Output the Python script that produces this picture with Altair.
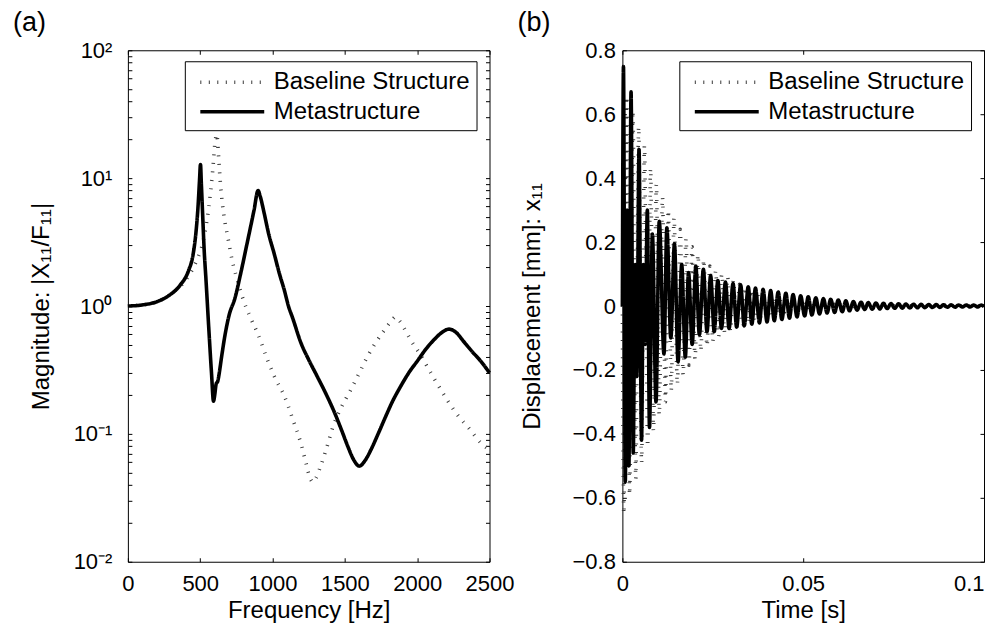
import altair as alt
import pandas as pd

FONT = "Liberation Sans"
SERIES = ["Baseline Structure", "Metastructure"]

# ---------------- (a) frequency response magnitudes -------------
FREQ_BASE = [0, 100, 200, 300, 400, 470, 520, 560, 585, 605,
             615, 625, 640, 665, 690, 720, 760, 800, 850, 900,
             965, 1020, 1080, 1140, 1195, 1230, 1260, 1280, 1300, 1330,
             1370, 1425, 1480, 1540, 1600, 1655, 1710, 1770, 1820, 1850,
             1880, 1920, 1960, 2020, 2080, 2140, 2200, 2280, 2360, 2440,
             2500]
MAG_BASE = [1.0, 1.02, 1.08, 1.25, 1.6, 2.2, 3.2, 6.0, 11.0, 20.0,
            22.0, 16.0, 9.0, 5.0, 3.5, 2.3, 1.55, 1.1, 0.8, 0.6,
            0.38, 0.27, 0.2, 0.13, 0.085, 0.06, 0.045, 0.042, 0.045, 0.055,
            0.075, 0.12, 0.165, 0.22, 0.30, 0.40, 0.51, 0.64, 0.76, 0.82,
            0.76, 0.64, 0.53, 0.42, 0.32, 0.245, 0.19, 0.14, 0.11, 0.085,
            0.075]

FREQ_META = [0, 100, 200, 280, 360, 420, 450, 470, 485, 495,
             502, 508, 516, 527, 540, 560, 578, 592, 600, 610,
             622, 632, 645, 670, 700, 740, 780, 827, 872, 900,
             915, 941, 975, 1010, 1050, 1080, 1110, 1140, 1195, 1250,
             1310, 1370, 1425, 1480, 1520, 1560, 1600, 1640, 1680, 1730,
             1780, 1830, 1890, 1950, 2000, 2060, 2120, 2170, 2220, 2270,
             2320, 2380, 2440, 2500]
MAG_META = [1.0, 1.02, 1.08, 1.2, 1.45, 1.9, 2.5, 3.7, 6.0, 9.5,
            12.8, 9.0, 5.5, 2.8, 1.6, 0.65, 0.3, 0.18, 0.2, 0.245,
            0.26, 0.3, 0.38, 0.58, 0.85, 1.15, 1.8, 3.2, 5.6, 8.0,
            7.2, 5.4, 3.6, 2.6, 1.75, 1.35, 1.0, 0.8, 0.52, 0.38,
            0.28, 0.205, 0.15, 0.105, 0.08, 0.063, 0.056, 0.062, 0.075, 0.1,
            0.135, 0.18, 0.24, 0.31, 0.37, 0.46, 0.55, 0.62, 0.66, 0.62,
            0.53, 0.44, 0.37, 0.30]

# ---------------- (b) time response: successive extremes (time [s], displacement [mm]) --
BASE_EXTREMES = [
    (0.0, 0.0), (0.0004, -0.65), (0.0012, 0.655), (0.0020, -0.59), (0.0029, 0.61),
    (0.0037, -0.54), (0.0045, 0.56), (0.0053, -0.49), (0.0061, 0.50), (0.0070, -0.44),
    (0.0078, 0.43), (0.0086, -0.39), (0.0094, 0.38), (0.0102, -0.34), (0.0111, 0.34),
    (0.0119, -0.30), (0.0127, 0.30), (0.0135, -0.265), (0.0143, 0.275), (0.0152, -0.245),
    (0.0160, 0.24), (0.0168, -0.215), (0.0176, 0.21), (0.0184, -0.185), (0.0193, 0.185),
    (0.0201, -0.165), (0.0209, 0.16), (0.0217, -0.14), (0.0225, 0.145), (0.0234, -0.125),
    (0.0242, 0.125), (0.0250, -0.11), (0.0258, 0.11), (0.0266, -0.095), (0.0275, 0.10),
    (0.0283, -0.085), (0.0291, 0.09), (0.0299, -0.078), (0.0307, 0.08), (0.0316, -0.07),
    (0.0324, 0.068), (0.0332, -0.062), (0.0340, 0.058), (0.0348, -0.053), (0.0357, 0.05),
    (0.0365, -0.046), (0.0373, 0.043), (0.0381, -0.04), (0.0389, 0.037), (0.0398, -0.034),
    (0.0406, 0.032), (0.0414, -0.029), (0.0422, 0.027), (0.0430, -0.025), (0.0439, 0.023),
    (0.0447, -0.021), (0.0455, 0.02), (0.0463, -0.018), (0.0471, 0.017), (0.0480, -0.015),
    (0.0488, 0.014), (0.0496, -0.013), (0.0504, 0.012), (0.0512, -0.011), (0.0521, 0.010),
    (0.0529, -0.009), (0.0537, 0.0085), (0.0545, -0.008), (0.0553, 0.007), (0.0561, -0.0065),
    (0.0570, 0.006), (0.0578, -0.0055), (0.0586, 0.005), (0.0594, -0.0045), (0.0602, 0.004),
    (0.0610, -0.0037), (0.0619, 0.0034), (0.0627, -0.0031), (0.0635, 0.0029), (0.0643, -0.0027),
    (0.0651, 0.0025), (0.0660, -0.0023), (0.0668, 0.0021), (0.0676, -0.0019), (0.0684, 0.0018),
    (0.0692, -0.0017), (0.0701, 0.0016), (0.0709, -0.0015), (0.0717, 0.0014), (0.0725, -0.0013),
    (0.0733, 0.0012), (0.0742, -0.0011), (0.0750, 0.0010), (0.0758, -0.0010), (0.0766, 0.0009),
    (0.0774, -0.0009), (0.0783, 0.0008), (0.0791, -0.0008), (0.0799, 0.0007), (0.0807, -0.0007),
    (0.0815, 0.0007), (0.0824, -0.0006), (0.0832, 0.0006), (0.0840, -0.0006), (0.0848, 0.0005),
    (0.0856, -0.0005), (0.0865, 0.0005), (0.0873, -0.0005), (0.0881, 0.0004), (0.0889, -0.0004),
    (0.0897, 0.0004), (0.0906, -0.0004), (0.0914, 0.0004), (0.0922, -0.0003), (0.0930, 0.0003),
    (0.0938, -0.0003), (0.0947, 0.0003), (0.0955, -0.0003), (0.0963, 0.0003), (0.0971, -0.0003),
    (0.0979, 0.0002), (0.0988, -0.0002), (0.0996, 0.0002), (0.1000, 0.0),
]

META_EXTREMES = [
    (0.0, 0.0), (0.0003, 0.75), (0.0008, -0.55), (0.0013, 0.30), (0.0018, -0.50),
    (0.0024, 0.67), (0.0030, -0.46), (0.0035, 0.13), (0.0040, -0.22), (0.0046, 0.49),
    (0.0053, -0.42), (0.0058, 0.13), (0.0063, -0.12), (0.0069, 0.30), (0.0075, -0.38),
    (0.0083, 0.225), (0.0093, -0.30), (0.0102, 0.265), (0.0115, -0.15), (0.0123, 0.245),
    (0.0134, -0.10), (0.0144, 0.195), (0.0154, -0.175), (0.0164, 0.13), (0.0174, -0.16),
    (0.0183, 0.105), (0.0193, -0.12), (0.0203, 0.125), (0.0213, -0.09), (0.0224, 0.115),
    (0.0234, -0.08), (0.0244, 0.095), (0.0254, -0.08), (0.0264, 0.08), (0.0274, -0.07),
    (0.0285, 0.075), (0.0295, -0.07), (0.0306, 0.07), (0.0316, -0.066), (0.0327, 0.066),
    (0.0337, -0.062), (0.0348, 0.06), (0.0358, -0.057), (0.0368, 0.056), (0.0379, -0.053),
    (0.0389, 0.052), (0.0400, -0.05), (0.0410, 0.048), (0.0420, -0.046), (0.0431, 0.044),
    (0.0441, -0.042), (0.0452, 0.04), (0.0462, -0.038), (0.0472, 0.036), (0.0483, -0.034),
    (0.0493, 0.032), (0.0504, -0.031), (0.0514, 0.029), (0.0524, -0.028), (0.0535, 0.026),
    (0.0545, -0.025), (0.0556, 0.023), (0.0566, -0.022), (0.0576, 0.021), (0.0587, -0.02),
    (0.0597, 0.019), (0.0608, -0.018), (0.0618, 0.016), (0.0628, -0.015), (0.0639, 0.014),
    (0.0649, -0.013), (0.0660, 0.012), (0.0670, -0.011), (0.0680, 0.0105), (0.0691, -0.01),
    (0.0701, 0.0095), (0.0712, -0.009), (0.0722, 0.0085), (0.0732, -0.008), (0.0743, 0.0075),
    (0.0753, -0.0072), (0.0764, 0.007), (0.0774, -0.0066), (0.0784, 0.0063), (0.0795, -0.006),
    (0.0805, 0.0057), (0.0816, -0.0055), (0.0826, 0.0052), (0.0836, -0.005), (0.0847, 0.0048),
    (0.0857, -0.0046), (0.0868, 0.0044), (0.0878, -0.0042), (0.0888, 0.004), (0.0899, -0.0038),
    (0.0909, 0.0036), (0.0920, -0.0035), (0.0930, 0.0034), (0.0940, -0.0032), (0.0951, 0.0031),
    (0.0961, -0.003), (0.0972, 0.0029), (0.0982, -0.0028), (0.0992, 0.0027), (0.1000, -0.0015),
]

# ---------------- axis tick values ----------------
XA_TICKS = [0, 500, 1000, 1500, 2000, 2500]
YA_MAJOR = [0.01, 0.1, 1, 10, 100]
YA_ALL = [0.01, 0.02, 0.03, 0.04, 0.05, 0.06, 0.07, 0.08, 0.09,
          0.1, 0.2, 0.3, 0.4, 0.5, 0.6, 0.7, 0.8, 0.9,
          1, 2, 3, 4, 5, 6, 7, 8, 9,
          10, 20, 30, 40, 50, 60, 70, 80, 90, 100]
XB_TICKS = [0, 0.05, 0.1]
YB_TICKS = [-0.8, -0.6, -0.4, -0.2, 0, 0.2, 0.4, 0.6, 0.8]

W, H = 362, 512

df_a = pd.concat([
    pd.DataFrame({"x": FREQ_BASE, "y": MAG_BASE, "s": SERIES[0]}),
    pd.DataFrame({"x": FREQ_META, "y": MAG_META, "s": SERIES[1]}),
], ignore_index=True)

df_b = pd.concat([
    pd.DataFrame({"x": [p[0] for p in BASE_EXTREMES], "y": [p[1] for p in BASE_EXTREMES], "s": SERIES[0]}),
    pd.DataFrame({"x": [p[0] for p in META_EXTREMES], "y": [p[1] for p in META_EXTREMES], "s": SERIES[1]}),
], ignore_index=True)


def main_axis(**kw):
    d = dict(labelFont=FONT, labelFontSize=22, labelColor="black",
             titleFont=FONT, titleFontSize=24, titleColor="black", titleFontWeight="normal",
             domain=False, grid=False, ticks=False, tickSize=0,
             labelFlush=False, labelOverlap=False)
    d.update(kw)
    return alt.Axis(**d)


def tick_axis(**kw):
    d = dict(labels=False, domain=False, grid=False, ticks=True, tickSize=4,
             tickColor="black", tickWidth=1, title=None)
    d.update(kw)
    return alt.Axis(**d)


legend = alt.Legend(title=None, orient="none", legendX=57, legendY=11, direction="vertical",
                    labelFont=FONT, labelFontSize=24, labelColor="black", labelLimit=400,
                    symbolType="M-2.5,0H2.5", symbolSize=655, symbolStrokeWidth=3.5,
                    strokeColor="black", fillColor="white", padding=6, symbolOffset=26.5,
                    labelOffset=26.5, rowPadding=2.5, cornerRadius=0)

color_enc = alt.Color("s:N", scale=alt.Scale(domain=SERIES, range=["#3a3a3a", "#000000"]), legend=legend)
dash_enc = alt.StrokeDash("s:N", scale=alt.Scale(domain=SERIES, range=[[1, 7.5], [1, 0]]), legend=legend)


def panel(df, xscale, yscale, xvals, yvals, yticks, xaxis_kw, yaxis_kw, label, label_dx):
    lines = alt.Chart(df).mark_line(strokeWidth=3.6, interpolate="monotone").encode(
        x=alt.X("x:Q", scale=xscale, axis=main_axis(orient="bottom", values=xvals, **xaxis_kw)),
        y=alt.Y("y:Q", scale=yscale, axis=main_axis(orient="left", values=yvals, **yaxis_kw)),
        color=color_enc,
        strokeDash=dash_enc,
    )
    ticks_in_bl = alt.Chart(df).mark_line(opacity=0).encode(
        x=alt.X("x:Q", scale=xscale, axis=tick_axis(orient="top", offset=-H, values=xvals)),
        y=alt.Y("y:Q", scale=yscale, axis=tick_axis(orient="right", offset=-W, values=yticks)),
    )
    ticks_in_tr = alt.Chart(df).mark_line(opacity=0).encode(
        x=alt.X("x:Q", scale=xscale, axis=tick_axis(orient="bottom", offset=-H, values=xvals)),
        y=alt.Y("y:Q", scale=yscale, axis=tick_axis(orient="left", offset=-W, values=yticks)),
    )
    return alt.layer(lines, ticks_in_bl, ticks_in_tr).resolve_axis(
        x="independent", y="independent"
    ).properties(
        width=W, height=H,
        title=alt.TitleParams(text=label, anchor="start", frame="group", orient="top",
                              dx=label_dx, offset=2, baseline="top", font=FONT,
                              fontSize=27, fontWeight="normal", color="black"),
    )


log_label = ("datum.value < 0.05 ? '10⁻²' : datum.value < 0.5 ? '10⁻¹' : "
             "datum.value < 5 ? '10⁰' : datum.value < 50 ? '10¹' : '10²'")

panel_a = panel(
    df_a,
    alt.Scale(domain=[0, 2500], nice=False, zero=False),
    alt.Scale(type="log", domain=[0.01, 100], nice=False),
    XA_TICKS, YA_MAJOR, YA_ALL,
    dict(title="Frequency [Hz]", labelPadding=12, format="d", titleY=56, titleBaseline="alphabetic"),
    dict(title="Magnitude: |X₁₁/F₁₁|", labelPadding=16, labelExpr=log_label,
         titleX=-86, titleBaseline="middle"),
    "(a)", -115,
)

panel_b = panel(
    df_b,
    alt.Scale(domain=[0, 0.1], nice=False, zero=False),
    alt.Scale(domain=[-0.8, 0.8], nice=False, zero=False),
    XB_TICKS, YB_TICKS, YB_TICKS,
    dict(title="Time [s]", labelPadding=12, format="~g", titleY=56, titleBaseline="alphabetic",
         labelAlign={"condition": {"test": "datum.value > 0.09", "value": "right"}, "value": "center"}),
    dict(title="Displacement [mm]: x₁₁", labelPadding=7,
         labelExpr="datum.value == 0 ? '0' : format(datum.value, '.1f')",
         titleX=-90, titleBaseline="middle"),
    "(b)", -105,
)

chart = alt.hconcat(panel_a, panel_b, spacing=133, bounds="flush").resolve_scale(
    color="independent", strokeDash="independent"
).properties(
    padding={"left": 4, "top": 0, "right": 0, "bottom": 0},
    background="white",
).configure_view(stroke="black", strokeWidth=1)

chart.save("out.html", embed_options={"renderer": "svg", "actions": False})
